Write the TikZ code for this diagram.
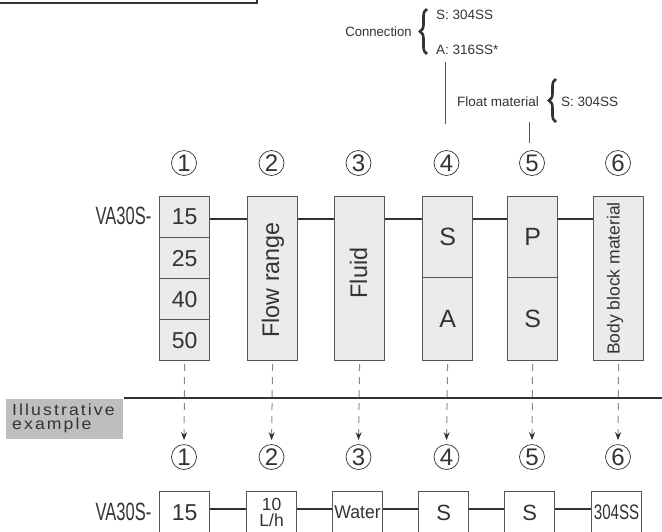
\documentclass[tikz,border=0pt]{standalone}
\usepackage{fontspec}
\setmainfont{Liberation Sans}
\usetikzlibrary{arrows.meta,decorations.pathreplacing,calc}
\definecolor{ink}{HTML}{333333}
\definecolor{edge}{HTML}{555555}
\definecolor{boxfill}{HTML}{EBEBEB}
\definecolor{tagfill}{HTML}{BEBEBE}
\definecolor{dashc}{HTML}{8A8A8A}
\newcommand{\fs}[1]{\fontsize{#1}{#1}\selectfont}
\newcommand{\hs}[2]{\scalebox{#1}[1]{#2}}
\begin{document}
\begin{tikzpicture}[x=1pt,y=-1pt,
  cell/.style={draw=edge, line width=1.2pt, fill=boxfill, anchor=north west, inner sep=0pt, minimum width=50pt, text=ink},
  wcell/.style={cell, fill=white, minimum height=42pt},
  num/.style={circle, draw=ink, line width=0.7pt, minimum size=25pt, inner sep=0pt, text=ink, font=\fs{24}},
  link/.style={line width=2.6pt, draw=ink},
  dasharrow/.style={draw=dashc, line width=1pt, dash pattern=on 7pt off 6pt, -{Stealth[length=8pt,width=6pt,color=ink]}, shorten >=4pt, shorten <=3pt},
  lab/.style={text=ink, font=\fs{13.5}, inner sep=0pt},
  vlab/.style={text=ink, inner sep=0pt, rotate=90},
  brc/.style={draw=ink, line width=2.6pt, decorate, decoration={brace, amplitude=7pt}},
  thin/.style={draw=edge, line width=0.8pt},
]
\useasboundingbox (0,0) rectangle (662,531);

% top-left frame
\draw[line width=1.8pt, draw=ink] (-5,-5) rectangle (257,3);

% connection annotation
\node[lab] (conn) at (378.5,32) {\hs{0.97}{Connection}};
\node[lab, anchor=west] (connS) at (436,15) {S: 304SS};
\node[lab, anchor=west] (connA) at (436,50) {A: 316SS*};
\coordinate (bc1) at (427,54);
\coordinate (bc2) at (427,9);
\draw[brc] (bc1) -- (bc2);
\coordinate (l4a) at (445,62);
\coordinate (l4b) at (445,124);
\draw[thin] (l4a) -- (l4b);

% float annotation
\node[lab] (flt) at (498,102) {Float material};
\node[lab, anchor=west] (fltS) at (561,102) {S: 304SS};
\coordinate (bf1) at (556,122);
\coordinate (bf2) at (556,79);
\draw[brc] (bf1) -- (bf2);
\coordinate (l5a) at (529,122);
\coordinate (l5b) at (529,143);
\draw[thin] (l5a) -- (l5b);

% top circled numbers
\node[num] (t1) at (184,163) {1};
\node[num] (t2) at (271.5,163) {2};
\node[num] (t3) at (358.5,163) {3};
\node[num] (t4) at (446.5,163) {4};
\node[num] (t5) at (532,163) {5};
\node[num] (t6) at (618,163) {6};

% model code top
\node[text=ink, inner sep=0pt] (va1) at (123.5,216) {\fs{25}\hs{0.66}{VA30S-}};

% top boxes
\node[cell, minimum height=41pt, font=\fs{23}] (c15) at (159,196) {15};
\node[cell, minimum height=41pt, font=\fs{23}] (c25) at (159,237) {25};
\node[cell, minimum height=41pt, font=\fs{23}] (c40) at (159,278) {40};
\node[cell, minimum height=41pt, font=\fs{23}] (c50) at (159,319) {50};
\node[cell, minimum height=164pt] (fr) at (247,196) {};
\node[vlab, font=\fs{24}] (frt) at (273,280) {\hs{0.97}{Flow range}};
\node[cell, minimum height=164pt] (fl) at (334,196) {};
\node[vlab, font=\fs{24}] (flt2) at (358.5,273) {\hs{0.97}{Fluid}};
\node[cell, minimum height=81pt, font=\fs{25}] (s4) at (422,196) {S};
\node[cell, minimum height=83pt, font=\fs{25}] (a4) at (422,277) {A};
\node[cell, minimum height=81pt, font=\fs{25}] (p5) at (507,196) {P};
\node[cell, minimum height=83pt, font=\fs{25}] (s5) at (507,277) {S};
\node[cell, minimum height=164pt] (bb) at (593,196) {};
\node[vlab, font=\fs{17.5}] (bbt) at (615,278.5) {Body block material};

\coordinate (row) at (0,219);
\draw[link] (c15.east |- row) -- (fr.west |- row);
\draw[link] (fr.east |- row) -- (fl.west |- row);
\draw[link] (fl.east |- row) -- (s4.west |- row);
\draw[link] (s4.east |- row) -- (p5.west |- row);
\draw[link] (p5.east |- row) -- (bb.west |- row);

% separator and tag
\node[fill=tagfill, draw=white, line width=0.5pt, anchor=north west, minimum width=118pt, minimum height=41pt, inner sep=0pt] (tag) at (5,398) {};
\node[anchor=west, align=left, inner sep=0pt, text=ink, font=\fontsize{16}{14.5}\selectfont\addfontfeature{LetterSpace=12}] (tagtxt) at (12,418.5) {\hs{1.1}{Illustrative}\\\hs{1.1}{example}};
\coordinate (sepR) at (662,398);
\draw[line width=1.4pt, draw=ink] (tag.north east) -- (sepR);

% bottom circled numbers
\node[num] (b1) at (184,457) {1};
\node[num] (b2) at (271.5,457) {2};
\node[num] (b3) at (358.5,457) {3};
\node[num] (b4) at (446.5,457) {4};
\node[num] (b5) at (532,457) {5};
\node[num] (b6) at (618,457) {6};

% dashed arrows
\draw[dasharrow] (c50.south) -- (b1.north);
\draw[dasharrow] (fr.south) -- (b2.north);
\draw[dasharrow] (fl.south) -- (b3.north);
\draw[dasharrow] (a4.south) -- (b4.north);
\draw[dasharrow] (s5.south) -- (b5.north);
\draw[dasharrow] (bb.south) -- (b6.north);

% bottom row
\node[text=ink, inner sep=0pt] (va2) at (123.5,512) {\fs{25}\hs{0.66}{VA30S-}};
\node[wcell, font=\fs{23}] (e1) at (159,491) {15};
\node[wcell, align=center, font=\fontsize{17.5}{16.5}\selectfont] (e2) at (246,491) {10\\L/h};
\node[wcell, font=\fs{18.5}] (e3) at (332,491) {\hs{0.95}{Water}};
\node[wcell, font=\fs{22}] (e4) at (418,491) {S};
\node[wcell, font=\fs{22}] (e5) at (504,491) {S};
\node[wcell, font=\fs{21}] (e6) at (591,491) {\hs{0.72}{304SS}};

\coordinate (brow) at (0,509);
\draw[link] (e1.east |- brow) -- (e2.west |- brow);
\draw[link] (e2.east |- brow) -- (e3.west |- brow);
\draw[link] (e3.east |- brow) -- (e4.west |- brow);
\draw[link] (e4.east |- brow) -- (e5.west |- brow);
\draw[link] (e5.east |- brow) -- (e6.west |- brow);
\end{tikzpicture}
\end{document}
